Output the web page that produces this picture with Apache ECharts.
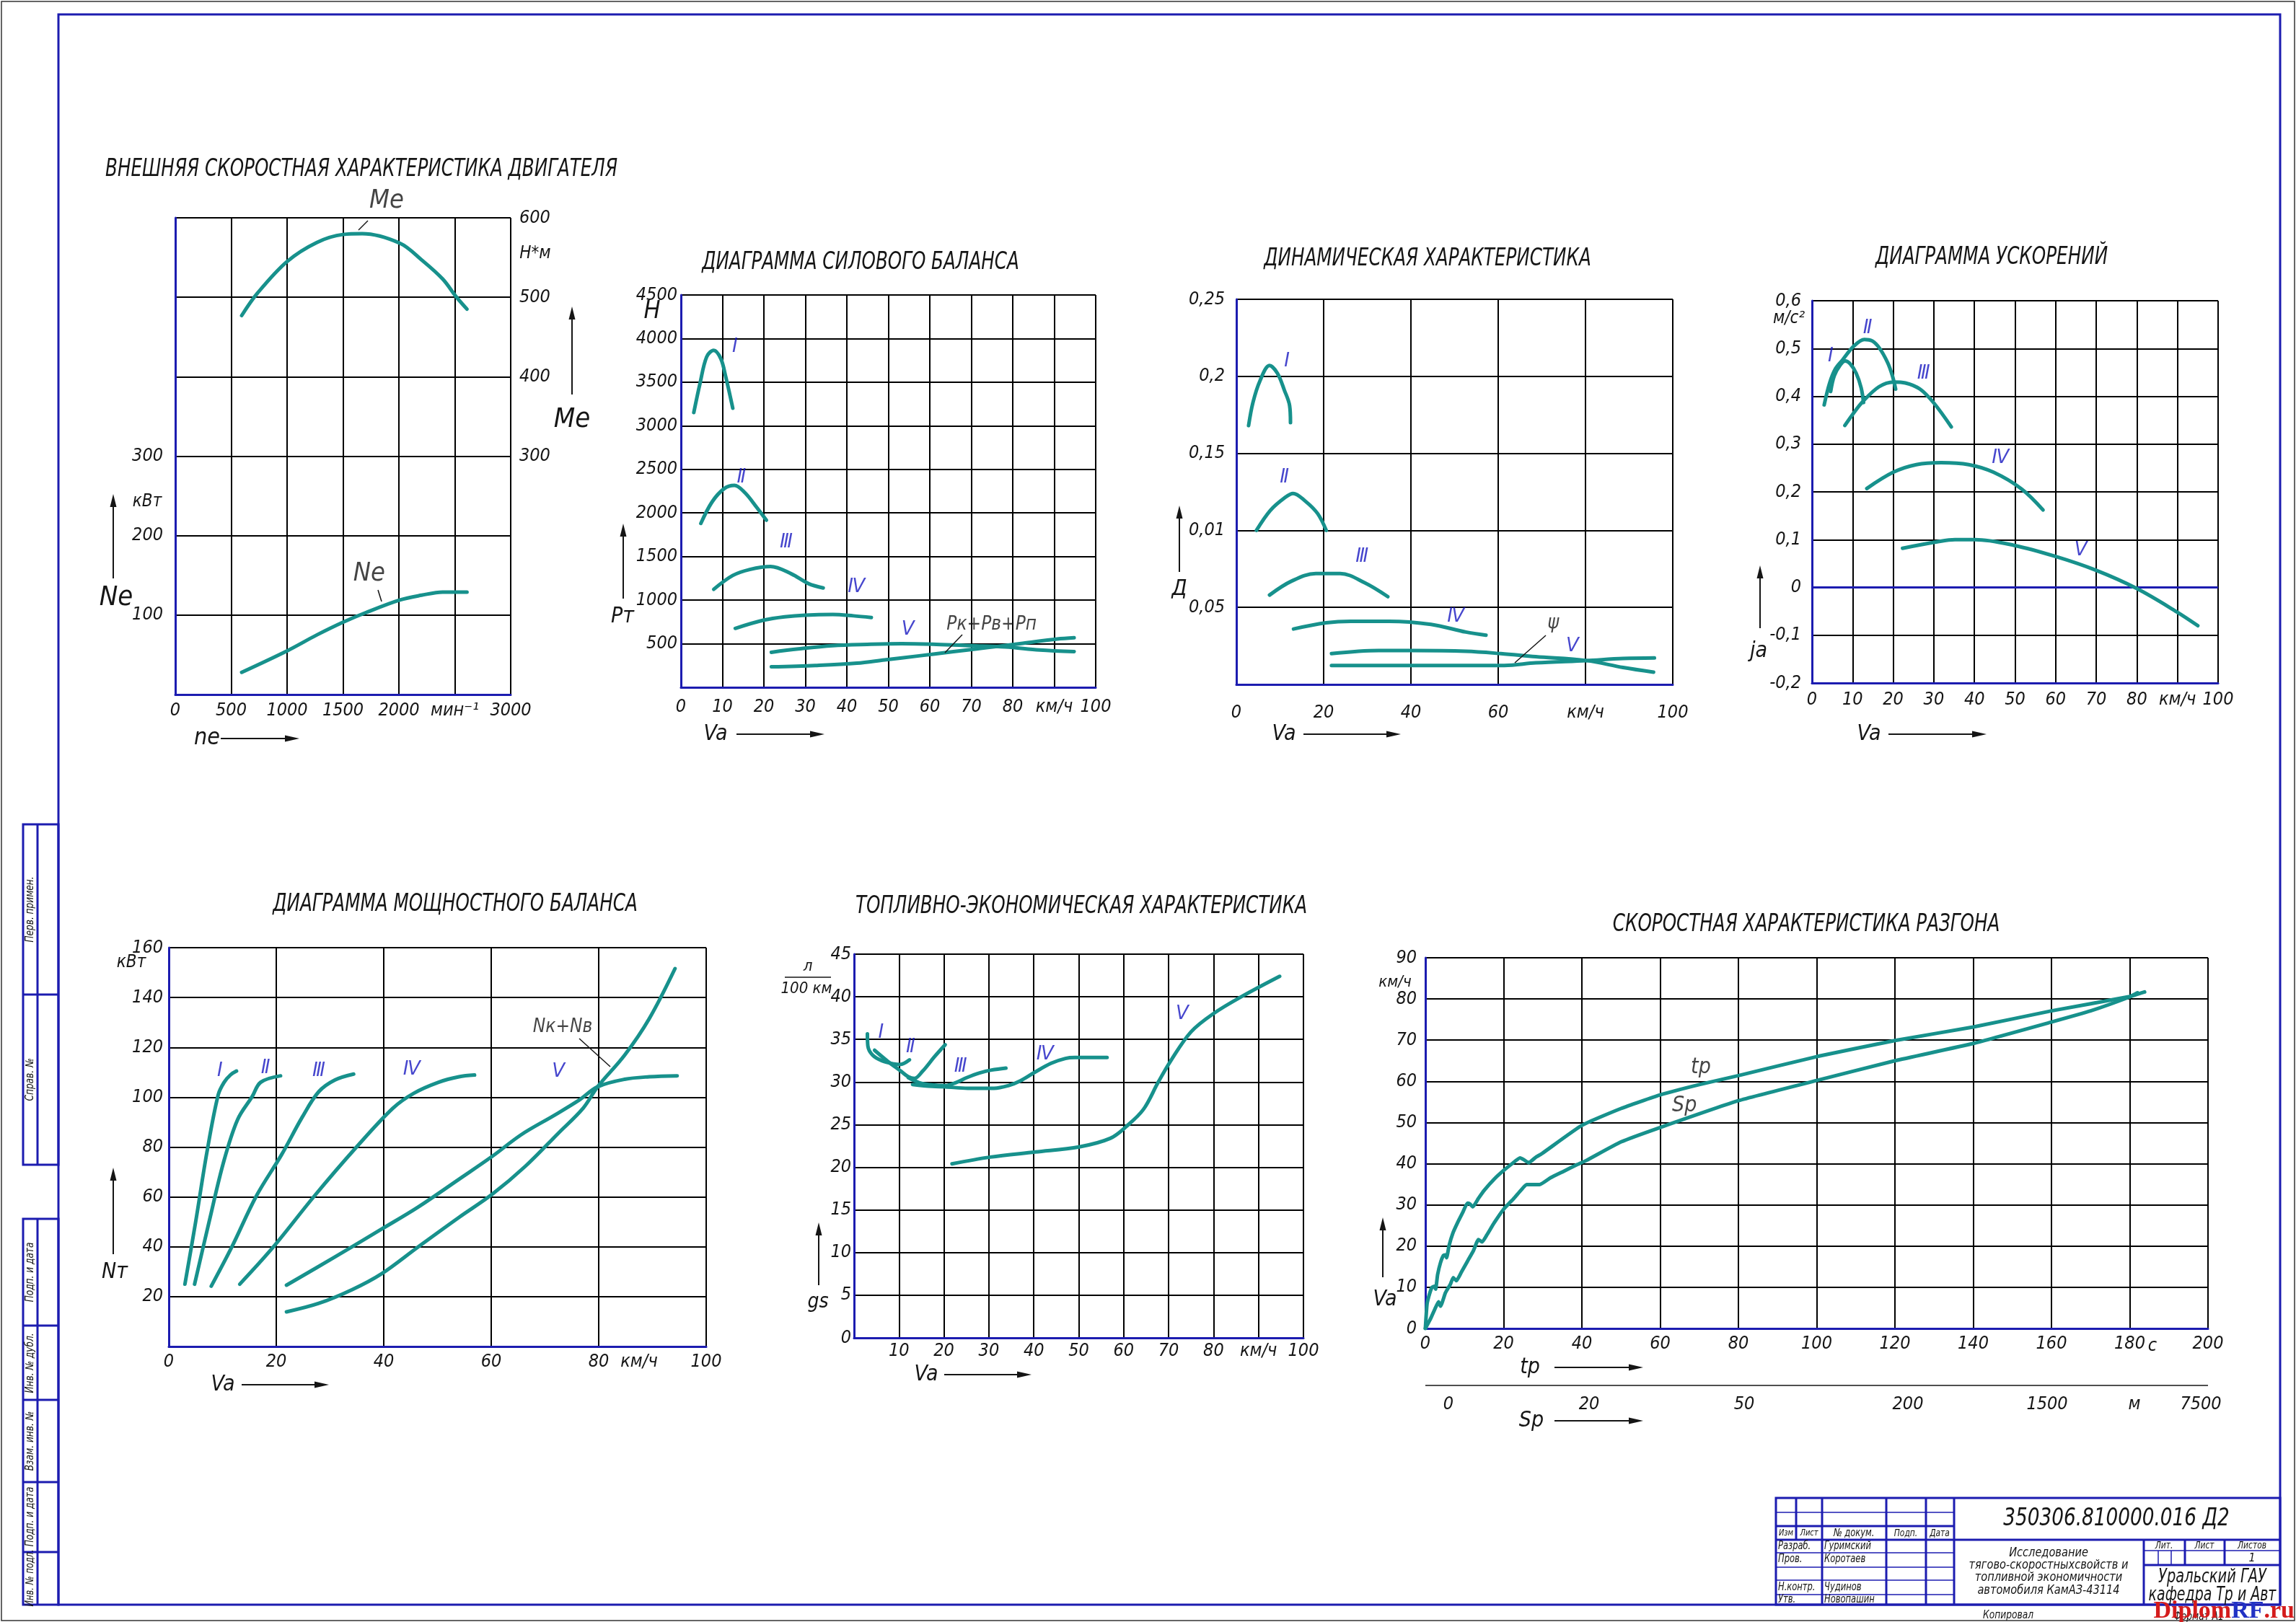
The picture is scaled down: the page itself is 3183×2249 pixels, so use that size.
<!DOCTYPE html>
<html>
<head>
<meta charset="utf-8">
<script src="https://cdn.jsdelivr.net/npm/echarts@6.0.0/dist/echarts.min.js"></script>
<style>
html,body{margin:0;padding:0;background:#fff;}
#c{width:3183px;height:2249px;}
</style>
</head>
<body>
<div id="c"></div>
<script>
// ---------------- DATA ----------------
// 1. External speed characteristic (n, rpm)
const engineMe = [[594,477],[734,505],[1000,545],[1266,569],[1500,579],[1672,580],[2009,568],[2203,547],[2391,523],[2516,500],[2609,485]];
const engineNe = [[594,28],[1000,55],[1266,75],[1500,91],[1703,103],[2009,119],[2203,125],[2391,129],[2609,129]];
const engineXLabels = ['0','500','1000','1500','2000','мин⁻¹','3000'];
const engineNeLabels = ['','100','200','300','','',''];
const engineMeLabels = ['','','','300','400','500','600'];
const engineNotes = [['Me',1890,621],['Ne',1735,152]];

// 2. Force balance (Va km/h, N)
const forceI = [[3.1,3152],[4.6,3486],[6.2,3790],[7.9,3866],[9.6,3771],[10.8,3562],[12.5,3201]];
const forceII = [[4.8,1880],[7.5,2126],[10.4,2278],[12.9,2316],[15.4,2233],[18.3,2062],[20.6,1917]];
const forceIII = [[7.9,1124],[12.5,1283],[16.6,1352],[21.6,1386],[26.6,1302],[30.8,1188],[34.3,1139]];
const forceIV = [[13.1,676],[20.0,771],[25.0,809],[30.0,828],[36.6,835],[41.6,820],[45.9,801]];
const forceV = [[21.8,402],[28.3,440],[36.6,478],[44.9,493],[53.2,501],[61.6,493],[69.9,478],[78.2,463],[86.5,429],[94.8,410]];
const forceRes = [[21.8,235],[32.4,251],[42.4,277],[49.1,315],[57.4,361],[65.7,410],[74.0,456],[82.4,505],[90.7,554],[94.8,569]];
const forceXLabels = ['0','10','20','30','40','50','60','70','80','км/ч','100'];
const forceYLabels = ['','500','1000','1500','2000','2500','3000','3500','4000','4500'];
const forceMarks = [['Ⅰ',13,3900],['Ⅱ',14.6,2404],['Ⅲ',25.4,1663],['Ⅳ',42.3,1150],['Ⅴ',54.7,657]];
const forceNotes = [['Pк+Pв+Pп',74.9,714]];

// 3. Dynamic characteristic
const dynI = [[2.8,0.168],[3.8,0.183],[5.4,0.197],[7.6,0.207],[9.4,0.202],[11.0,0.191],[12.2,0.181],[12.4,0.170]];
const dynII = [[4.6,0.100],[7.8,0.113],[11.0,0.121],[13.0,0.124],[15.8,0.119],[18.6,0.111],[20.6,0.100]];
const dynIII = [[7.6,0.058],[12.6,0.067],[18.2,0.072],[23.8,0.072],[29.4,0.066],[34.7,0.057]];
const dynIV = [[13.1,0.036],[20.6,0.040],[26.2,0.041],[35.0,0.041],[44.6,0.039],[52.6,0.034],[57.2,0.032]];
const dynV = [[21.8,0.020],[32.6,0.022],[40.6,0.022],[52.6,0.0215],[60.6,0.020],[68.6,0.018],[80.2,0.0155],[88.6,0.011],[95.6,0.008]];
const dynPsi = [[21.8,0.0123],[40.6,0.0123],[61.4,0.0123],[68.6,0.014],[80.2,0.0155],[88.6,0.0168],[95.8,0.0172]];
const dynXLabels = ['0','20','40','60','км/ч','100'];
const dynYLabels = ['','0,05','0,01','0,15','0,2','0,25'];
const dynMarks = [['Ⅰ',11.6,0.2096],['Ⅱ',11.0,0.1343],['Ⅲ',28.8,0.0827],['Ⅳ',50.3,0.0441],['Ⅴ',77.0,0.0247]];
const dynNotes = [['ψ',72.6,0.0398]];

// 4. Accelerations
const accI = [[4.6,0.410],[5.5,0.443],[7.0,0.466],[8.2,0.474],[9.4,0.468],[10.9,0.448],[12.1,0.418],[12.7,0.387]];
const accII = [[3.0,0.382],[4.35,0.428],[5.8,0.458],[7.6,0.477],[10.3,0.505],[12.9,0.519],[14.8,0.516],[16.6,0.501],[18.6,0.471],[19.8,0.443],[20.6,0.415]];
const accIII = [[8.1,0.339],[10.0,0.362],[12.4,0.388],[16.5,0.420],[20.1,0.430],[23.0,0.428],[26.6,0.415],[30.0,0.386],[34.3,0.336]];
const accIV = [[13.5,0.207],[20.0,0.241],[25.7,0.257],[31.8,0.261],[38.6,0.257],[44.7,0.241],[51.6,0.206],[56.9,0.162]];
const accV = [[22.3,0.082],[30.6,0.095],[35.2,0.100],[40.2,0.100],[49.8,0.088],[59.9,0.065],[69.9,0.036],[79.9,-0.002],[89.8,-0.051],[95.0,-0.080]];
const accXLabels = ['0','10','20','30','40','50','60','70','80','км/ч','100'];
const accYLabels = ['-0,2','-0,1','0','0,1','0,2','0,3','0,4','0,5','0,6'];
const accMarks = [['Ⅰ',4.6,0.483],['Ⅱ',13.7,0.542],['Ⅲ',27.5,0.447],['Ⅳ',46.4,0.270],['Ⅴ',66.2,0.078]];

// 5. Power balance
const powI = [[3.0,25],[5.0,50],[7.1,78],[9.2,101],[10.3,106],[11.5,109],[12.6,110.5]];
const powII = [[4.8,25],[7.5,50],[10.2,74],[12.8,91],[15.5,100.2],[17.1,106],[20.8,108.6]];
const powIII = [[7.9,24.2],[11.7,39.8],[16.3,60.4],[21.0,77.0],[24.8,91.9],[27.9,102.2],[30.9,106.9],[34.4,109.3]];
const powIV = [[13.2,25.0],[19.4,39.8],[27.1,60.4],[34.8,79.7],[41.7,95.6],[45.6,101.6],[50.2,106.0],[54.0,108.2],[56.9,108.9]];
const powV = [[21.9,24.6],[30.9,35.9],[39.6,47.1],[46.3,55.8],[54.0,67.1],[60.2,76.3],[65.6,85.0],[71.7,92.7],[76.4,98.9],[79.8,104.2],[84.8,107.2],[89.4,108.2],[94.6,108.6]];
const powRes = [[21.9,13.9],[27.9,17.3],[34.1,22.8],[39.6,29.2],[46.3,39.8],[54.0,51.8],[60.2,61.1],[66.4,72.4],[72.5,85.6],[77.1,95.6],[79.8,104.2],[84.8,116.8],[89.4,131.5],[94.2,151.6]];
const powXLabels = ['0','20','40','60','80','100'];
const powYLabels = ['','20','40','60','80','100','120','140','160'];
const powMarks = [['Ⅰ',9.5,110.5],['Ⅱ',18.0,111.5],['Ⅲ',27.9,110.5],['Ⅳ',45.2,110.9],['Ⅴ',72.5,110.2]];
const powNotes = [['Nк+Nв',73.3,128.1]];

// 6. Fuel economy
const fuelI = [[2.97,35.65],[3.07,34.24],[4.13,33.16],[6.25,32.49],[8.9,32.12],[10.22,32.06],[12.34,32.6]];
const fuelII = [[4.56,33.73],[7.57,32.4],[10.22,31.36],[12.08,30.62],[13.4,30.42],[15.25,31.27],[17.9,32.97],[20.29,34.38]];
const fuelIII = [[12.08,30.51],[14.46,29.94],[17.37,29.66],[20.29,29.58],[22.67,29.94],[25.05,30.51],[27.97,31.07],[30.61,31.41],[33.79,31.64]];
const fuelIV = [[13.03,29.72],[17.37,29.49],[20.29,29.44],[25.32,29.27],[31.14,29.27],[34.32,29.58],[36.97,30.14],[40.15,31.13],[43.86,32.2],[47.03,32.77],[49.15,32.88],[56.3,32.88]];
const fuelV = [[21.8,20.4],[30.3,21.2],[40.3,21.8],[50.1,22.4],[57.0,23.4],[60.6,24.8],[64.4,26.8],[67.7,30.0],[70.6,32.6],[75.0,35.9],[79.9,38.0],[86.5,40.1],[94.7,42.4]];
const fuelXLabels = ['','10','20','30','40','50','60','70','80','км/ч','100'];
const fuelYLabels = ['0','5','10','15','20','25','30','35','40','45'];
const fuelMarks = [['Ⅰ',6.0,35.8],['Ⅱ',12.6,34.1],['Ⅲ',23.7,31.8],['Ⅳ',42.5,33.2],['Ⅴ',73.0,38.0]];

// 7. Acceleration run (time s, Va km/h)
const runTime = [[0,0],[0.44,6.0],[1.06,8.35],[1.69,10.0],[2.31,10.24],[2.63,9.53],[3.13,13.06],[3.88,16.0],[4.63,17.76],[5.13,17.88],[5.44,17.18],[6.06,20.12],[7.0,23.06],[8.25,25.71],[9.5,28.06],[10.75,30.41],[11.38,30.24],[12.13,29.53],[13.56,31.59],[15.13,33.65],[17.63,36.29],[20.0,38.35],[22.31,40.12],[24.19,41.41],[25.13,41.0],[26.38,40.24],[28.25,41.59],[29.81,42.47],[40,49.3],[50,53.4],[60,56.7],[70,59.2],[80,61.4],[100,66.0],[120,69.9],[140,73.2],[160,77.1],[180,80.6],[183.8,81.7]];
const runPath = [[0,0],[1.38,2.47],[2.63,5.12],[3.38,6.47],[3.88,5.41],[5.13,8.65],[6.38,10.71],[7.13,12.35],[7.94,11.59],[9.19,13.65],[10.75,16.29],[12.31,18.94],[13.56,21.59],[14.5,21.0],[15.75,22.76],[17.63,25.71],[20.0,28.94],[22.63,31.59],[24.5,33.65],[25.88,34.94],[27.31,34.94],[29.19,34.94],[32.0,36.59],[35.13,38.06],[38.88,39.82],[41.19,40.82],[50,45.3],[60,48.8],[80,55.3],[100,60.2],[120,65.0],[140,69.2],[160,74.4],[170,77.1],[180,80.5],[182,81.5]];
const runXLabels = ['0','20','40','60','80','100','120','140','160','180','200'];
const runYLabels = ['0','10','20','30','40','50','60','70','80','90'];
const runSpLabels = ['0','20','50','200','1500','м','7500'];
const runNotes = [['tp',70.4,63.3],['Sp',66.2,54.1]];

// ---------------- STYLE ----------------
const FONT = "'Liberation Sans Narrow','DejaVu Sans Condensed','DejaVu Sans',sans-serif";
const TEAL = '#17918c';
const BLUE = '#1c1cb0';
const ROMAN = '#1818c0';
const INK = '#151515';
const TICK = 25;

const grids = [
  {left:243, top:302, width:465, height:661},
  {left:944, top:409, width:575, height:544},
  {left:1714, top:415, width:605, height:534},
  {left:2512, top:417, width:563, height:530},
  {left:234, top:1314, width:745, height:553},
  {left:1184, top:1323, width:623, height:532},
  {left:1976, top:1328, width:1085, height:514}
];

function lblFn(labels, min, step){
  return function(v){ const i = Math.round((v - min) / step); return labels[i] !== undefined ? labels[i] : ''; };
}
function lblStyle(labels, min, step, margin, pad){
  return {formatter:lblFn(labels,min,step), margin:margin, fontSize:TICK, fontFamily:FONT, fontStyle:'italic', color:INK,
    showMinLabel:true, showMaxLabel:true, hideOverlap:false, padding:pad||0};
}
function xAx(gi, min, max, step, labels, margin){
  return {type:'value', gridIndex:gi, min:min, max:max, interval:step,
    axisLine:{show:true, onZero:false, lineStyle:{color:BLUE, width:3}},
    axisTick:{show:false},
    splitLine:{show:true, lineStyle:{color:'#000', width:2}},
    axisLabel:lblStyle(labels,min,step,margin)};
}
function yAx(gi, min, max, step, labels, margin, pad, pos, showLine){
  return {type:'value', gridIndex:gi, min:min, max:max, interval:step, position:pos||'left',
    axisLine:{show:showLine!==false, onZero:false, lineStyle:{color:BLUE, width:3}},
    axisTick:{show:false},
    splitLine:{show:showLine!==false, lineStyle:{color:'#000', width:2}},
    axisLabel:lblStyle(labels,min,step,margin,pad)};
}

const xAxis = [
  xAx(0, 0, 3000, 500, engineXLabels, 10),
  xAx(1, 0, 100, 10, forceXLabels, 15),
  xAx(2, 0, 100, 20, dynXLabels, 27),
  xAx(3, 0, 100, 10, accXLabels, 11),
  xAx(4, 0, 100, 20, powXLabels, 9),
  xAx(5, 0, 100, 10, fuelXLabels, 6),
  xAx(6, 0, 200, 20, runXLabels, 9)
];
const yAxis = [
  yAx(0, 0, 600, 100, engineNeLabels, 17, [16,0,0,0], 'left'),
  yAx(0, 0, 600, 100, engineMeLabels, 12, 0, 'right', false),
  yAx(1, 0, 4500, 500, forceYLabels, 5, [0,0,20,0]),
  yAx(2, 0, 0.25, 0.05, dynYLabels, 16, [20,0,0,0]),
  yAx(3, -0.2, 0.6, 0.1, accYLabels, 15, [0,0,10,0]),
  yAx(4, 0, 160, 20, powYLabels, 8, [0,0,20,0]),
  yAx(5, 0, 45, 5, fuelYLabels, 4),
  yAx(6, 0, 90, 10, runYLabels, 12)
];

function curve(data, xi, yi, smooth){
  return {type:'line', xAxisIndex:xi, yAxisIndex:yi, data:data, smooth:(smooth===undefined?0.35:smooth), symbol:'none',
    lineStyle:{color:TEAL, width:5, cap:'round', join:'round'}, z:5, silent:true};
}
function marks(items, xi, yi, color, size, family){
  return {type:'scatter', xAxisIndex:xi, yAxisIndex:yi, symbolSize:1, clip:false, silent:true,
    itemStyle:{color:'rgba(0,0,0,0)'},
    data: items.map(function(it){ return {name:it[0], value:[it[1], it[2]]}; }),
    label:{show:true, position:'inside', formatter:'{b}', color:color, fontSize:size, fontFamily:family||FONT, fontStyle:'italic'}, z:8};
}
const RF = "'DejaVu Sans',sans-serif";

const series = [
  curve(engineMe, 0, 1), curve(engineNe, 0, 0),
  marks(engineNotes, 0, 0, INK, 36),

  curve(forceI,1,2), curve(forceII,1,2), curve(forceIII,1,2), curve(forceIV,1,2), curve(forceV,1,2), curve(forceRes,1,2),
  marks(forceMarks,1,2,ROMAN,26,RF), marks(forceNotes,1,2,INK,26),

  curve(dynI,2,3), curve(dynII,2,3), curve(dynIII,2,3), curve(dynIV,2,3), curve(dynV,2,3), curve(dynPsi,2,3),
  marks(dynMarks,2,3,ROMAN,26,RF), marks(dynNotes,2,3,INK,27),

  curve(accI,3,4), curve(accII,3,4), curve(accIII,3,4), curve(accIV,3,4),
  Object.assign(curve(accV,3,4), {markLine:{silent:true, symbol:'none', label:{show:false}, lineStyle:{color:BLUE, width:3, type:'solid'}, data:[{yAxis:0}]}}),
  marks(accMarks,3,4,ROMAN,26,RF),

  curve(powI,4,5), curve(powII,4,5), curve(powIII,4,5), curve(powIV,4,5), curve(powV,4,5), curve(powRes,4,5),
  marks(powMarks,4,5,ROMAN,26,RF), marks(powNotes,4,5,INK,26),

  curve(fuelI,5,6), curve(fuelII,5,6), curve(fuelIII,5,6), curve(fuelIV,5,6), curve(fuelV,5,6),
  marks(fuelMarks,5,6,ROMAN,26,RF),

  curve(runTime,6,7,0.15), curve(runPath,6,7,0.15),
  marks(runNotes,6,7,INK,30)
];

// ---------------- GRAPHIC (frame, captions) ----------------
const G = [];
function T(x,y,text,size,o){
  o = o || {};
  G.push({type:'text', x:x, y:y, rotation:o.rot||0, scaleX:o.sx||1, scaleY:o.sy||1, z:20, silent:true,
    style:{text:text, fontSize:size, fontFamily:o.family||FONT, fontStyle:o.style||'italic', fontWeight:o.weight||'normal',
      fill:o.fill||INK, align:o.align||'center', verticalAlign:o.va||'middle'}});
}
function L(x1,y1,x2,y2,w,c){
  G.push({type:'line', z:20, silent:true, shape:{x1:x1,y1:y1,x2:x2,y2:y2}, style:{stroke:c||INK, lineWidth:w||2}});
}
function R(x,y,w,h,lw,c){
  G.push({type:'rect', z:19, silent:true, shape:{x:x,y:y,width:w,height:h}, style:{fill:'none', stroke:c||BLUE, lineWidth:lw||3}});
}
function arrowUp(x,yb,yt){
  L(x,yb,x,yt+12,2);
  G.push({type:'polygon', z:20, silent:true, shape:{points:[[x,yt],[x-4.5,yt+18],[x+4.5,yt+18]]}, style:{fill:INK}});
}
function arrowRight(x1,x2,y){
  L(x1,y,x2-12,y,2);
  G.push({type:'polygon', z:20, silent:true, shape:{points:[[x2,y],[x2-20,y-4.5],[x2-20,y+4.5]]}, style:{fill:INK}});
}
const TS = {sx:0.83};   // narrow drafting lettering for titles

// page borders
R(2,2,3179,2245,1.5,'#333');
R(81,20,3080,2205,3,BLUE);

// chart 1
T(501,235,'ВНЕШНЯЯ СКОРОСТНАЯ ХАРАКТЕРИСТИКА ДВИГАТЕЛЯ',33,TS);
L(497,319,510,306,1.5);
L(524,818,529,834,1.5);
T(742,352,'Н*м',24);
arrowUp(793,547,425); T(793,582,'Me',38);
T(204,696,'кВт',24);
arrowUp(157,802,685); T(161,829,'Ne',38);
T(287,1024,'ne',32); arrowRight(306,415,1024);

// chart 2
T(1193,364,'ДИАГРАММА СИЛОВОГО БАЛАНСА',33,TS);
T(904,432,'Н',34);
arrowUp(864,830,726); T(863,855,'Pт',30);
T(992,1018,'Va',30); arrowRight(1021,1143,1018);
L(1334,880,1310,905,1.5);

// chart 3
T(1979,359,'ДИНАМИЧЕСКАЯ ХАРАКТЕРИСТИКА',33,TS);
arrowUp(1635,793,701); T(1635,817,'Д',30);
T(1780,1018,'Va',30); arrowRight(1807,1942,1018);
L(2143,881,2100,919,1.5);

// chart 4
T(2761,357,'ДИАГРАММА УСКОРЕНИЙ',33,TS);
T(2480,442,'м/с²',24);
arrowUp(2440,871,784); T(2438,903,'ja',30);
T(2591,1018,'Va',30); arrowRight(2618,2754,1018);

// chart 5
T(631,1254,'ДИАГРАММА МОЩНОСТНОГО БАЛАНСА',33,TS);
T(182,1335,'кВт',24);
arrowUp(157,1739,1619); T(159,1764,'Nт',30);
T(309,1920,'Va',30); arrowRight(335,456,1920);
T(886,1888,'км/ч',TICK);
L(803,1440,846,1479,1.5);

// chart 6
T(1499,1257,'ТОПЛИВНО-ЭКОНОМИЧЕСКАЯ ХАРАКТЕРИСТИКА',33,TS);
T(1120,1340,'л',22); L(1088,1355,1152,1355,1.5); T(1118,1371,'100 км',22);
arrowUp(1135,1782,1695); T(1134,1806,'gs',28);
T(1284,1906,'Va',30); arrowRight(1309,1430,1906);

// chart 7
T(2504,1282,'СКОРОСТНАЯ ХАРАКТЕРИСТИКА РАЗГОНА',33,TS);
T(1934,1362,'км/ч',22);
arrowUp(1917,1771,1688); T(1920,1802,'Va',30);
T(2984,1866,'с',TICK);
T(2121,1896,'tp',30); arrowRight(2155,2278,1896);
L(1976,1921,3061,1921,1.5);
const spX = [2008,2203,2418,2645,2838,2959,3051];
runSpLabels.forEach(function(s,i){ T(spX[i],1947,s,TICK); });
T(2123,1970,'Sp',30); arrowRight(2155,2278,1970);

// left stamps
R(32,1143,49,472,3,BLUE); L(52,1143,52,1615,3,BLUE); L(32,1379,81,1379,3,BLUE);
T(42,1261,'Перв. примен.',15,{rot:Math.PI/2, sx:0.9});
T(42,1497,'Справ. №',15,{rot:Math.PI/2, sx:0.9});
R(32,1690,49,535,3,BLUE); L(52,1690,52,2225,3,BLUE);
[1838,1941,2055,2152].forEach(function(y){ L(32,y,81,y,3,BLUE); });
T(42,1764,'Подп. и дата',15,{rot:Math.PI/2, sx:0.9});
T(42,1890,'Инв. № дубл.',15,{rot:Math.PI/2, sx:0.9});
T(42,1998,'Взам. инв. №',15,{rot:Math.PI/2, sx:0.9});
T(42,2103,'Подп. и дата',15,{rot:Math.PI/2, sx:0.9});
T(42,2188,'Инв. № подл.',15,{rot:Math.PI/2, sx:0.85});

// title block
R(2462,2077,699,148,3,BLUE);
L(2462,2116,2709,2116,3,BLUE); L(2462,2135,3161,2135,3,BLUE);
L(2462,2097,2709,2097,1.5,BLUE);
[2153,2173,2191,2211].forEach(function(y){ L(2462,y,2709,y,1.5,BLUE); });
L(2490,2077,2490,2135,3,BLUE);
[2526,2615,2670,2709].forEach(function(x){ L(x,2077,x,2225,3,BLUE); });
L(2972,2135,2972,2225,3,BLUE);
L(2972,2150,3161,2150,1.5,BLUE); L(2972,2170,3161,2170,3,BLUE);
L(3029,2135,3029,2170,3,BLUE); L(3084,2135,3084,2170,3,BLUE);
L(2992,2150,2992,2170,1.5,BLUE); L(3010,2150,3010,2170,1.5,BLUE);
T(2934,2106,'350306.810000.016 Д2',34,{sx:0.86});
T(2476,2126,'Изм',13,{sx:0.85}); T(2508,2126,'Лист',13,{sx:0.85}); T(2570,2126,'№ докум.',15,{sx:0.85}); T(2642,2126,'Подп.',14,{sx:0.85}); T(2689,2126,'Дата',14,{sx:0.85});
const TB = {align:'left', sx:0.8};
T(2465,2144,'Разраб.',16,TB); T(2529,2144,'Гуримский',16,TB);
T(2465,2162,'Пров.',16,TB); T(2529,2162,'Коротаев',16,TB);
T(2465,2201,'Н.контр.',16,TB); T(2529,2201,'Чудинов',16,TB);
T(2465,2218,'Утв.',16,TB); T(2529,2218,'Новопашин',16,TB);
T(2840,2153,'Исследование',18,{sx:0.9}); T(2840,2170,'тягово-скоростныхсвойств и',18,{sx:0.9});
T(2840,2187,'топливной экономичности',18,{sx:0.9}); T(2840,2205,'автомобиля КамАЗ-43114',18,{sx:0.9});
T(3000,2143,'Лит.',14,{sx:0.85}); T(3056,2143,'Лист',14,{sx:0.85}); T(3122,2143,'Листов',14,{sx:0.85});
T(3122,2161,'1',16);
T(3067,2187,'Уральский ГАУ',27,{sx:0.8}); T(3067,2212,'кафедра Тр и Авт',27,{sx:0.78});
T(2784,2240,'Копировал',16,{sx:0.85}); T(3048,2242,'Формат А1',16,{sx:0.85});
G.push({type:'text', x:3181, y:2234, z:25, silent:true,
  style:{text:'{a|Diplom}{b|RF}{a|.ru}', align:'right', verticalAlign:'middle',
    rich:{a:{fill:'#d41c1c', fontFamily:"'Liberation Serif','DejaVu Serif',serif", fontWeight:'bold', fontSize:34},
          b:{fill:'#2232c4', fontFamily:"'Liberation Serif','DejaVu Serif',serif", fontWeight:'bold', fontSize:34}}}});

const chart = echarts.init(document.getElementById('c'), null, {renderer:'canvas', width:3183, height:2249});
chart.setOption({
  animation:false,
  backgroundColor:'#ffffff',
  grid: grids.map(function(g){ return Object.assign({containLabel:false, show:false}, g); }),
  xAxis: xAxis,
  yAxis: yAxis,
  series: series,
  graphic: G
});
</script>
</body>
</html>
